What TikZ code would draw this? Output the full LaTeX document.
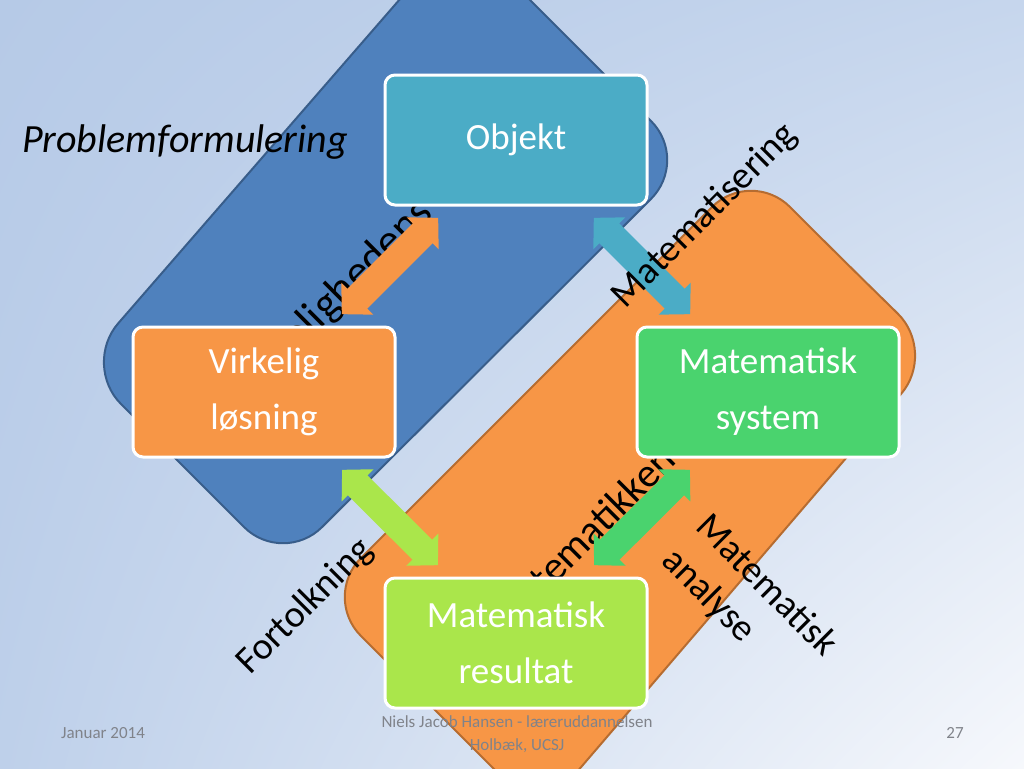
\documentclass[tikz,border=0pt]{standalone}
\usepackage{fontspec}
\setmainfont{Carlito}
\usetikzlibrary{arrows.meta,shadings}

\definecolor{bgA}{RGB}{182,202,231}
\definecolor{bgB}{RGB}{198,214,237}
\definecolor{bgC}{RGB}{190,208,234}
\definecolor{bgD}{RGB}{246,248,252}
\definecolor{bluefill}{RGB}{79,129,189}
\definecolor{blueline}{RGB}{56,93,138}
\definecolor{orangefill}{RGB}{247,150,70}
\definecolor{orangeline}{RGB}{182,108,48}
\definecolor{objcol}{RGB}{75,172,198}
\definecolor{syscol}{RGB}{74,211,110}
\definecolor{rescol}{RGB}{170,230,75}
\definecolor{footgray}{RGB}{128,131,138}

\def\blueregion{(575,45) -- (690,160) -- (283,566) -- (82,365) -- (460,-70) -- cycle}
\def\orangeregion{(843,260) -- (937,352) -- (540,815) -- (322,597) -- (751,168) -- cycle}

\tikzset{
  box/.style={draw=white, line width=3pt, rounded corners=10pt,
    minimum width=262pt, minimum height=130pt, text=white, align=center,
    font=\fontsize{37}{56}\selectfont},
  link/.style={line width=28pt, >={Triangle[length=22pt,width=44pt]}, <->,
    shorten <=16pt, shorten >=16pt},
  lab/.style={font=\fontsize{38}{48}\selectfont},
  foot/.style={text=footgray, align=center, font=\fontsize{17}{23}\selectfont}
}

\begin{document}
\begin{tikzpicture}[x=1pt,y=-1pt]
    \useasboundingbox (0,0) rectangle (1024,768);
    \clip (0,0) rectangle (1024,768);
    \shade[upper left=bgA, upper right=bgB, lower left=bgC, lower right=bgD]
      (0,0) rectangle (1024,768);

    % the two worlds
    \fill[bluefill, draw=blueline, line width=2pt, rounded corners=55pt] \blueregion;
    \fill[orangefill, draw=orangeline, line width=2pt, rounded corners=55pt] \orangeregion;

    \node[lab, rotate=45, anchor=base west, font=\fontsize{44}{48}\selectfont] (virkhid) at (247,403) {Virkelighedens};
    \node[lab, rotate=45, anchor=base west, font=\fontsize{41}{48}\selectfont] (mathid) at (505,635) {Matematikken};

    % footer
    \node[foot] (date) at (103,733) {Januar 2014};
    \node[foot] (author) at (517,734) {Niels Jacob Hansen - læreruddannelsen\\Holbæk, UCSJ};
    \node[foot] (pagenum) at (955,733) {27};

    \node[box, fill=objcol] (obj) at (516,140) {Objekt};
    \node[box, fill=orangefill] (virk) at (264,392) {Virkelig\\løsning};
    \node[box, fill=syscol] (sys) at (768,392) {Matematisk\\system};
    \node[box, fill=rescol] (res) at (516,643) {Matematisk\\resultat};

    \draw[link, orangefill] (virk) -- (obj);
    \draw[link, objcol] (obj) -- (sys);
    \draw[link, syscol] (sys) -- (res);
    \draw[link, rescol] (res) -- (virk);

    \node[lab, font=\fontsize{40}{48}\itshape] (problab) at (185,142) {Problemformulering};
    \node[lab, rotate=45] (matlab) at (705,216) {Matematisering};
    \node[lab, rotate=45] (fortlab) at (305,607) {Fortolkning};
    \node[lab, rotate=-45, align=left] (analab) at (749,603) {Matematisk\\analyse};
\end{tikzpicture}
\end{document}
